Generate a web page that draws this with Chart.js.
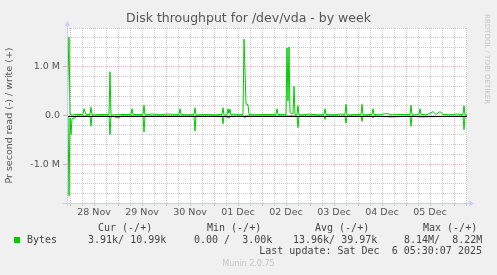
<!DOCTYPE html>
<html><head><meta charset="utf-8">
<script src="https://cdn.jsdelivr.net/npm/chart.js@4/dist/chart.umd.min.js"></script>
<style>
html,body{margin:0;padding:0;background:#f0f0f0;}
#wrap{position:relative;width:497px;height:275px;overflow:hidden;background:#f0f0f0;}
canvas{position:absolute;left:0;top:0;}
.t{position:absolute;font-family:"DejaVu Sans Mono",monospace;font-size:10px;color:#444;white-space:pre;line-height:12px;}
.sq{position:absolute;left:14px;top:237px;width:6px;height:6px;background:#00cc00;}
.rrd{position:absolute;left:482px;top:14px;writing-mode:vertical-rl;font-family:"DejaVu Sans",sans-serif;font-size:7px;color:#c4c4c4;white-space:pre;line-height:9px;}
.munin{position:absolute;left:0;width:497px;top:258px;text-align:center;font-family:"DejaVu Sans",sans-serif;font-size:8px;color:#c4c4c4;line-height:12px;}
</style></head><body>
<div id="wrap"><canvas id="c" width="497" height="275"></canvas>
<div class="rrd">RRDTOOL / TOBI OETIKER</div>
<div class="t" style="left:98px;top:222px">Cur (-/+)</div>
<div class="t" style="left:207px;top:222px">Min (-/+)</div>
<div class="t" style="left:315px;top:222px">Avg (-/+)</div>
<div class="t" style="left:423px;top:222px">Max (-/+)</div>
<div class="sq"></div>
<div class="t" style="left:27px;top:234px">Bytes</div>
<div class="t" style="left:88px;top:234px">3.91k/ 10.99k</div>
<div class="t" style="left:194px;top:234px">0.00 /  3.00k</div>
<div class="t" style="left:293px;top:234px">13.96k/ 39.97k</div>
<div class="t" style="left:404px;top:234px">8.14M/  8.22M</div>
<div class="t" style="right:15px;top:245px">Last update: Sat Dec  6 05:30:07 2025</div>
<div class="munin">Munin 2.0.75</div>
</div>
<script>
// hours relative to 28 Nov 00:00, values in kB/s
const writeHours = [-1.5,-0.5,0,1,3,6.5,7,8,10,10.5,
  11,15,19.5,20,20.5,25,30.5,31,31.5,36.5,
  37,37.5,41,45,48.5,51.5,54.5,55,55.5,59,
  62,62.5,63,67.5,72.5,76,76.5,77,78.5,79,
  79.5,80,80.5,81.5,85,86.5,87,88,89,89.5,
  92.5,97.5,103,103.5,104,108,108.5,109,109.5,110,
  110.5,111.5,112,112.5,113.5,114,114.5,117.5,119.5,120.5,
  124,127,127.5,128,131.5,135.5,137.5,138,138.5,142.5,
  145.5,146,146.5,149,151,151.5,152,155,158,161,
  165,170,170.5,171,174.5,175,175.5,178.5,181.5,183,
  185,186.5,190,193,196.5,197,197.5,198.5];
const writeK = [20,1610,30,10,20,20,140,20,20,170,
  10,20,20,900,10,20,20,140,20,20,
  210,10,30,15,30,25,20,140,20,15,
  20,160,10,20,15,20,160,10,10,140,
  40,130,10,30,15,20,1570,240,220,20,
  15,20,20,140,20,20,1390,300,1410,60,
  40,30,600,20,20,200,10,20,30,25,
  15,20,140,20,15,30,20,230,10,20,
  20,230,10,20,20,140,20,15,40,15,
  20,20,210,10,20,140,20,15,80,20,
  80,20,15,30,20,200,10,11];
const readHours = [-1.5,-1,-0.5,0,0.5,1,2.5,3.5,7.5,10,
  10.5,11,19.5,20,20.5,24.5,25.5,36.5,37,37.5,
  48,62,62.5,63,76,76.5,77,79.5,80.5,87,
  87.5,88,113.5,114,114.5,127,127.5,128,137.5,138,
  138.5,145.5,146,146.5,151,151.5,152,160.5,166.5,170,
  170.5,171,175,196.5,197,197.5,198.5];
const readK = [10,10,1650,50,390,60,50,10,10,10,
  220,10,10,390,10,50,10,10,340,10,
  10,10,320,10,10,170,10,50,10,10,
  50,10,10,250,10,10,80,10,10,160,
  10,10,120,10,10,50,10,30,20,10,
  220,10,30,10,290,10,4];
const dayLabels = ['28 Nov','29 Nov','30 Nov','01 Dec','02 Dec','03 Dec','04 Dec','05 Dec'];
const yTickValues = [-1000000, 0, 1000000];
const yTickLabels = ['-1.0 M', '0.0', '1.0 M'];

const writeData = writeHours.map((h,i)=>({x:h, y:writeK[i]*1000}));
const readData = readHours.map((h,i)=>({x:h, y:-readK[i]*1000}));

const MAJ = 'rgba(225,110,110,0.55)';
const MIN = 'rgba(170,170,170,0.6)';

const bgPlugin = {id:'bg', beforeDraw(chart){
  const {ctx, chartArea:a} = chart;
  ctx.save();
  ctx.fillStyle = '#f0f0f0'; ctx.fillRect(0,0,chart.width,chart.height);
  ctx.fillStyle = '#ffffff'; ctx.fillRect(a.left,a.top,a.right-a.left,a.bottom-a.top);
  ctx.restore();
}};
const axesPlugin = {id:'axes', afterDatasetsDraw(chart){
  const {ctx, chartArea:a, scales:{y}} = chart;
  ctx.save();
  const y0 = Math.round(y.getPixelForValue(0)) + 0.5;
  ctx.strokeStyle = '#000'; ctx.lineWidth = 1;
  ctx.beginPath(); ctx.moveTo(a.left, y0); ctx.lineTo(a.right, y0); ctx.stroke();
  const col = '#c9d0f4';
  ctx.strokeStyle = col; ctx.fillStyle = col;
  const xl = Math.round(a.left) + 0.5, yb = Math.round(a.bottom) + 0.5;
  ctx.beginPath(); ctx.moveTo(xl, a.bottom + 3); ctx.lineTo(xl, a.top - 2); ctx.stroke();
  ctx.beginPath(); ctx.moveTo(xl-3, a.top-2); ctx.lineTo(xl+3, a.top-2); ctx.lineTo(xl, a.top-7); ctx.closePath(); ctx.fill();
  ctx.beginPath(); ctx.moveTo(a.left - 4, yb); ctx.lineTo(a.right + 2, yb); ctx.stroke();
  ctx.beginPath(); ctx.moveTo(a.right+2, yb-3); ctx.lineTo(a.right+2, yb+3); ctx.lineTo(a.right+7, yb); ctx.closePath(); ctx.fill();
  ctx.restore();
}};

Chart.defaults.font.family = "'DejaVu Sans', sans-serif";
new Chart(document.getElementById('c'), {
  type: 'line',
  data: { datasets: [
    { label:'write', data: writeData, borderColor:'#00cc00', borderWidth:1, pointRadius:0, tension:0 },
    { label:'read', data: readData, borderColor:'#00cc00', borderWidth:1, pointRadius:0, tension:0 }
  ]},
  options: {
    responsive:false, animation:false, devicePixelRatio:1,
    layout:{ padding:{ top:0, left:0, right:0, bottom:52 } },
    plugins:{
      legend:{display:false}, tooltip:{enabled:false},
      title:{ display:true, text:'Disk throughput for /dev/vda - by week', color:'#555',
        font:{size:12.5, weight:'normal'}, padding:{top:11.5, bottom:1.5} }
    },
    scales:{
      x:{ type:'linear', min:-1.5, max:198.5,
        afterBuildTicks(s){ const t=[]; for(let h=0; h<=198; h+=6) t.push({value:h}); s.ticks=t; },
        afterFit(s){ s.height = 20; },
        ticks:{ autoSkip:false, maxRotation:0, color:'#555', font:{size:9.5}, padding:1,
          callback(v){ return (v % 24 === 12) ? dayLabels[(v-12)/24] : ''; } },
        grid:{ color:c=> (c.tick && c.tick.value % 24 === 0) ? MAJ : MIN,
          tickColor:c=> (c.tick && c.tick.value % 24 === 0) ? MAJ : MIN, tickLength:3 },
        border:{ display:false, dash:[1,1] }
      },
      y:{ type:'linear', min:-1800000, max:1800000,
        afterBuildTicks(s){ const t=[]; for(let i=-9;i<=9;i++) t.push({value:i*200000}); s.ticks=t; },
        afterFit(s){ s.width = 67; },
        ticks:{ autoSkip:false, color:'#555', font:{size:9.5}, padding:3,
          callback(v){ const k = yTickValues.indexOf(v); return k >= 0 ? yTickLabels[k] : ''; } },
        grid:{ color:c=> (c.tick && c.tick.value % 1000000 === 0) ? MAJ : MIN,
          tickColor:c=> (c.tick && c.tick.value % 1000000 === 0) ? MAJ : 'rgba(0,0,0,0)', tickLength:4 },
        border:{ display:false, dash:[1,1] },
        title:{ display:true, text:'Pr second read (-) / write (+)', color:'#555', font:{size:9.5}, padding:{top:4,bottom:0} }
      },
      yr:{ type:'linear', position:'right', display:true,
        afterFit(s){ s.width = 30; },
        grid:{ display:false }, ticks:{ display:false }, border:{ display:false } }
    }
  },
  plugins:[bgPlugin, axesPlugin]
});
</script>
</body></html>
